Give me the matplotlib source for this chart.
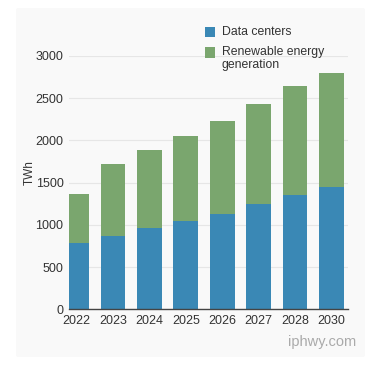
import matplotlib.pyplot as plt
from matplotlib.patches import FancyBboxPatch, Rectangle

years = ["2022", "2023", "2024", "2025", "2026", "2027", "2028", "2030"]
data_centers = [780, 870, 960, 1050, 1130, 1250, 1350, 1450]
renewable_total = [1360, 1720, 1890, 2050, 2230, 2430, 2640, 2800]
y_ticks = [0, 500, 1000, 1500, 2000, 2500, 3000]

BLUE = "#3a88b5"
GREEN = "#7aa66e"

plt.rcParams["font.family"] = ["Liberation Sans", "DejaVu Sans"]

W, H = 375, 366
fig = plt.figure(figsize=(W / 100, H / 100), dpi=100)
fig.patch.set_facecolor("white")

# light card behind the chart
card = FancyBboxPatch((16 / W, 1 - 357 / H), 349 / W, 349 / H,
                      boxstyle="round,pad=0,rounding_size=0.006",
                      transform=fig.transFigure, facecolor="#f9f9f9",
                      edgecolor="none", zorder=-5)
fig.patches.append(card)

ax = fig.add_axes([69 / W, 1 - 309.3 / H, (348 - 69) / W, (309.3 - 56) / H])
ax.set_facecolor("none")
ax.set_zorder(2)

x = list(range(len(years)))
ax.bar(x, renewable_total, width=0.68, color=GREEN, zorder=2)
ax.bar(x, data_centers, width=0.68, color=BLUE, zorder=3)

ax.set_xlim(-0.21, 7.46)
ax.set_ylim(0, 3000)
ax.set_yticks(y_ticks)
ax.set_xticks(x)
ax.set_xticklabels(years)
ax.tick_params(axis="both", length=0, labelsize=9, colors="#333333")
ax.tick_params(axis="x", pad=4)
ax.tick_params(axis="y", pad=4)
ax.yaxis.grid(True, color="#e6e6e6", linewidth=0.8, zorder=0)
ax.set_axisbelow(True)
for side in ["left", "right", "top"]:
    ax.spines[side].set_visible(False)
ax.spines["bottom"].set_color("#444444")
ax.spines["bottom"].set_linewidth(1.0)
ax.spines["bottom"].set_zorder(4)

fig.text(30 / W, 1 - 173 / H, "TWh", rotation=90, ha="center", va="center",
         fontsize=8.5, color="#333333")

# legend drawn by hand so the swatch lines up with the first text line
legend_items = [(BLUE, "Data centers", 32), (GREEN, "Renewable energy\ngeneration", 52.5)]
for color, label, yc in legend_items:
    fig.patches.append(Rectangle((205 / W, 1 - (yc + 5) / H), 10 / W, 10 / H,
                                 transform=fig.transFigure, facecolor=color,
                                 edgecolor="none", zorder=3))
    fig.text(222 / W, 1 - (yc - 6) / H, label, ha="left", va="top",
             fontsize=8.8, color="#333333", linespacing=1.05)

fig.text(356 / W, 1 - 342 / H, "iphwy.com", ha="right", va="center",
         fontsize=10.5, color="#aaaaaa")

fig.savefig("out.png", dpi=100)
